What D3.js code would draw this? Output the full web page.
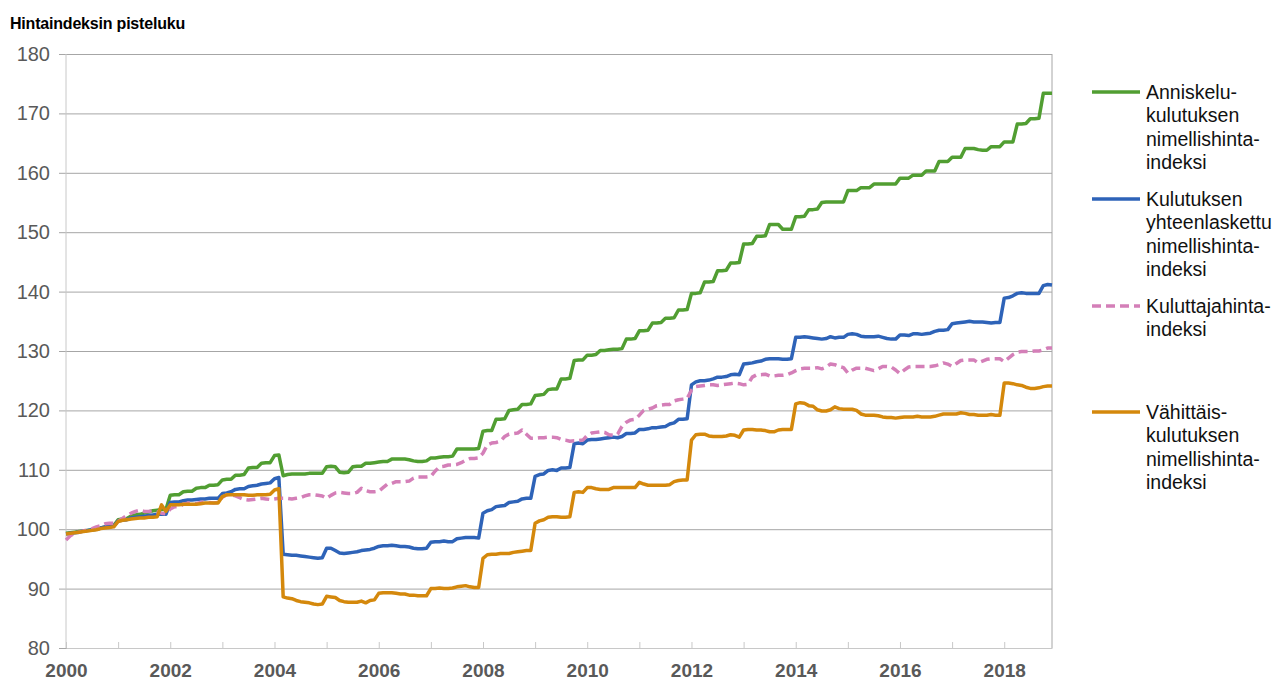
<!DOCTYPE html>
<html>
<head>
<meta charset="utf-8">
<script src="https://cdn.jsdelivr.net/npm/d3@7"></script>
<style>
  body { margin: 0; background: #fff; }
  svg { font-family: "Liberation Sans", Arial, sans-serif; }
</style>
</head>
<body>
<div class="chart"></div>
<script>
// monthly values Jan 2000 .. Dec 2018
const anniskelu = [
  99.3, 99.4, 99.5, 99.6, 99.7, 99.8, 99.9, 100.0, 100.2, 100.4, 100.5, 100.6,
  101.6, 101.7, 101.8, 102.2, 102.4, 102.5, 102.7, 102.9, 103.1, 103.2, 103.3, 103.3,
  105.7, 105.8, 105.8, 106.3, 106.4, 106.4, 106.9, 107.0, 107.0, 107.4, 107.4, 107.5,
  108.3, 108.4, 108.4, 109.1, 109.1, 109.2, 110.3, 110.4, 110.4, 111.1, 111.2, 111.2,
  112.4, 112.5, 109.0, 109.2, 109.3, 109.3, 109.3, 109.3, 109.4, 109.4, 109.4, 109.4,
  110.5, 110.6, 110.5, 109.6, 109.5, 109.6, 110.5, 110.6, 110.6, 111.1, 111.1, 111.2,
  111.3, 111.4, 111.4, 111.8, 111.8, 111.8, 111.8, 111.7, 111.5, 111.4, 111.4, 111.5,
  112.0, 112.0, 112.1, 112.2, 112.2, 112.3, 113.5, 113.5, 113.5, 113.5, 113.5, 113.6,
  116.5, 116.6, 116.6, 118.5, 118.5, 118.6, 120.0, 120.1, 120.2, 121.0, 121.0, 121.1,
  122.5, 122.6, 122.7, 123.5, 123.6, 123.6, 125.3, 125.3, 125.4, 128.4, 128.5, 128.5,
  129.3, 129.3, 129.4, 130.1, 130.1, 130.2, 130.3, 130.3, 130.4, 132.0, 132.0, 132.1,
  133.4, 133.4, 133.5, 134.7, 134.7, 134.8, 135.5, 135.5, 135.6, 136.9, 136.9, 137.0,
  139.7, 139.7, 139.8, 141.6, 141.6, 141.7, 143.5, 143.5, 143.6, 144.8, 144.8, 144.9,
  148.0, 148.0, 148.1, 149.3, 149.3, 149.4, 151.3, 151.3, 151.3, 150.5, 150.5, 150.5,
  152.6, 152.6, 152.7, 153.8, 153.8, 153.9, 155.0, 155.1, 155.1, 155.1, 155.1, 155.1,
  157.0, 157.0, 157.0, 157.5, 157.5, 157.5, 158.1, 158.1, 158.1, 158.1, 158.1, 158.1,
  159.1, 159.1, 159.1, 159.6, 159.6, 159.6, 160.3, 160.3, 160.3, 161.9, 161.9, 161.9,
  162.6, 162.6, 162.6, 164.1, 164.1, 164.1, 163.9, 163.8, 163.8, 164.4, 164.4, 164.4,
  165.2, 165.2, 165.2, 168.2, 168.2, 168.3, 169.1, 169.1, 169.2, 173.4, 173.4, 173.4
];
const kulutus = [
  99.2, 99.3, 99.4, 99.5, 99.7, 99.8, 99.9, 100.0, 100.2, 100.4, 100.5, 100.5,
  101.4, 101.5, 101.6, 101.9, 102.0, 102.1, 102.2, 102.3, 102.4, 102.5, 102.5, 102.5,
  104.5, 104.6, 104.6, 104.8, 104.9, 104.9, 105.0, 105.1, 105.1, 105.2, 105.2, 105.2,
  106.0, 106.1, 106.3, 106.7, 106.8, 106.8, 107.2, 107.3, 107.4, 107.6, 107.7, 107.8,
  108.5, 108.7, 95.8, 95.7, 95.6, 95.6, 95.5, 95.4, 95.3, 95.2, 95.1, 95.2,
  96.8, 96.8, 96.4, 96.0, 95.9, 96.0, 96.1, 96.2, 96.4, 96.5, 96.6, 96.8,
  97.1, 97.2, 97.2, 97.3, 97.2, 97.1, 97.1, 97.0, 96.8, 96.7, 96.7, 96.8,
  97.8, 97.9, 97.9, 98.0, 97.9, 97.9, 98.4, 98.5, 98.6, 98.6, 98.6, 98.5,
  102.7, 103.1, 103.3, 103.8, 103.9, 104.0, 104.5, 104.6, 104.7, 105.1, 105.2, 105.2,
  108.9, 109.2, 109.3, 109.9, 110.0, 109.9, 110.3, 110.3, 110.4, 114.4, 114.5, 114.4,
  115.0, 115.1, 115.1, 115.2, 115.3, 115.4, 115.5, 115.4, 115.6, 116.1, 116.1, 116.2,
  116.8, 116.8, 116.9, 117.1, 117.1, 117.2, 117.3, 117.7, 117.9, 118.5, 118.5, 118.6,
  124.3, 124.8, 125.0, 125.0, 125.1, 125.3, 125.6, 125.6, 125.7, 126.0, 126.1, 126.0,
  127.8, 127.9, 128.0, 128.2, 128.3, 128.6, 128.7, 128.7, 128.7, 128.6, 128.6, 128.7,
  132.3, 132.3, 132.4, 132.3, 132.2, 132.1, 132.0, 132.1, 132.4, 132.2, 132.3, 132.3,
  132.8, 132.9, 132.8, 132.5, 132.4, 132.4, 132.4, 132.5, 132.3, 132.1, 132.0, 132.0,
  132.7, 132.7, 132.6, 132.9, 132.9, 132.8, 132.9, 133.0, 133.3, 133.5, 133.5, 133.6,
  134.6, 134.7, 134.8, 134.9, 135.0, 134.9, 134.9, 134.9, 134.8, 134.7, 134.8, 134.8,
  138.9, 139.0, 139.3, 139.7, 139.8, 139.7, 139.7, 139.7, 139.7, 141.0, 141.2, 141.1
];
const kuluttajahinta = [
  98.2, 98.9, 99.3, 99.5, 99.7, 99.9, 100.1, 100.4, 100.6, 100.9, 101.0, 101.0,
  101.3, 101.8, 102.3, 102.7, 103.0, 103.2, 103.0, 103.0, 103.1, 102.9, 102.7, 102.6,
  103.4, 103.8, 103.8, 104.2, 104.4, 104.4, 104.3, 104.5, 104.6, 104.5, 104.4, 104.5,
  105.4, 105.8, 105.8, 105.6, 105.3, 105.0, 104.9, 105.0, 105.1, 105.2, 105.1, 105.0,
  105.1, 105.2, 105.2, 105.2, 105.1, 105.2, 105.3, 105.6, 105.8, 105.8, 105.7, 105.6,
  105.2, 105.7, 106.1, 106.2, 106.1, 106.0, 106.0, 106.2, 106.9, 106.5, 106.3, 106.3,
  106.4, 107.0, 107.6, 107.7, 108.0, 108.0, 108.0, 108.1, 108.6, 108.8, 108.8, 108.8,
  108.9, 109.8, 110.5, 110.6, 110.8, 110.8, 110.9, 111.2, 111.6, 111.9, 111.9, 112.0,
  112.8, 114.2, 114.5, 114.6, 114.8, 115.6, 116.0, 116.1, 116.2, 116.7, 116.0, 115.3,
  115.3, 115.4, 115.4, 115.5, 115.5, 115.4, 115.1, 115.0, 114.8, 114.9, 114.9, 115.0,
  115.8, 116.2, 116.3, 116.4, 116.3, 115.9, 115.8, 116.0, 117.3, 118.0, 118.4, 118.5,
  119.2, 120.0, 120.2, 120.4, 120.8, 120.9, 121.0, 121.0, 121.6, 121.8, 121.9, 122.0,
  123.4, 124.0, 124.1, 124.2, 124.3, 124.3, 124.2, 124.3, 124.4, 124.5, 124.6, 124.5,
  124.3, 124.4, 125.6, 126.0, 126.0, 126.1, 125.8, 125.8, 125.9, 125.9, 126.0, 126.3,
  126.7, 127.0, 127.1, 127.1, 127.1, 127.2, 127.0, 127.3, 127.8, 127.7, 127.4, 127.2,
  126.3, 126.8, 127.1, 127.1, 127.1, 126.9, 126.7, 127.0, 127.4, 127.4, 127.3, 126.8,
  126.2, 126.8, 127.3, 127.4, 127.4, 127.4, 127.4, 127.4, 127.5, 127.7, 128.0, 127.8,
  127.4, 127.9, 128.4, 128.5, 128.5, 128.5, 128.0, 128.3, 128.6, 128.7, 128.7, 128.7,
  128.2, 128.8, 129.4, 129.8, 129.9, 129.9, 129.9, 130.0, 130.0, 130.2, 130.5, 130.5
];
const vahittais = [
  99.2, 99.3, 99.4, 99.5, 99.6, 99.7, 99.8, 99.9, 100.1, 100.2, 100.3, 100.4,
  101.3, 101.5, 101.6, 101.7, 101.8, 101.9, 101.9, 102.0, 102.0, 102.1, 104.1, 103.0,
  104.1, 104.1, 104.1, 104.2, 104.2, 104.2, 104.2, 104.3, 104.4, 104.4, 104.4, 104.4,
  105.5, 105.8, 105.8, 105.8, 105.8, 105.8, 105.7, 105.7, 105.8, 105.8, 105.8, 105.9,
  106.6, 106.8, 88.6, 88.4, 88.3, 88.0, 87.8, 87.7, 87.6, 87.4, 87.3, 87.4,
  88.7, 88.6, 88.5, 88.0, 87.8, 87.7, 87.7, 87.7, 87.9, 87.6, 88.0, 88.1,
  89.2, 89.3, 89.3, 89.3, 89.2, 89.1, 89.1, 88.9, 88.9, 88.8, 88.8, 88.8,
  90.0, 90.0, 90.1, 90.0, 90.0, 90.1, 90.3, 90.4, 90.5, 90.3, 90.2, 90.2,
  95.1, 95.7, 95.8, 95.8, 95.9, 95.9, 95.9, 96.1, 96.2, 96.3, 96.4, 96.4,
  101.0, 101.4, 101.6, 102.0, 102.1, 102.1, 102.0, 102.0, 102.1, 106.2, 106.3, 106.2,
  107.0, 107.0, 106.8, 106.7, 106.7, 106.7, 107.0, 107.0, 107.0, 107.0, 107.0, 107.0,
  107.9, 107.6, 107.4, 107.4, 107.4, 107.4, 107.4, 107.5, 108.0, 108.2, 108.3, 108.3,
  115.0, 115.9, 116.0, 116.0, 115.7, 115.6, 115.6, 115.6, 115.7, 115.9, 115.8, 115.5,
  116.7, 116.8, 116.8, 116.7, 116.7, 116.6, 116.4, 116.4, 116.7, 116.8, 116.8, 116.8,
  121.1, 121.3, 121.2, 120.8, 120.7, 120.1, 119.9, 119.9, 120.1, 120.6, 120.3, 120.2,
  120.2, 120.2, 120.0, 119.4, 119.2, 119.2, 119.2, 119.1, 118.9, 118.8, 118.8, 118.7,
  118.8, 118.9, 118.9, 118.9, 119.0, 118.9, 118.9, 118.9, 119.0, 119.2, 119.4, 119.4,
  119.4, 119.4, 119.6, 119.5, 119.3, 119.3, 119.2, 119.2, 119.2, 119.3, 119.2, 119.2,
  124.6, 124.6, 124.5, 124.3, 124.2, 123.9, 123.7, 123.7, 123.8, 124.0, 124.1, 124.1
];
const years = d3.range(2000, 2019);
const yTicks = [80, 90, 100, 110, 120, 130, 140, 150, 160, 170, 180];

const series = [
  {name: ["Anniskelu-", "kulutuksen", "nimellishinta-", "indeksi"], values: anniskelu, color: "#519e32", dash: null, ly: 92},
  {name: ["Kulutuksen", "yhteenlaskettu", "nimellishinta-", "indeksi"], values: kulutus, color: "#2e63b8", dash: null, ly: 199},
  {name: ["Kuluttajahinta-", "indeksi"], values: kuluttajahinta, color: "#d47fb8", dash: "9,5", ly: 306},
  {name: ["Vähittäis-", "kulutuksen", "nimellishinta-", "indeksi"], values: vahittais, color: "#d4880c", dash: null, ly: 412}
];

const W = 1277, H = 682;
const plot = {left: 66, right: 1052, top: 54, bottom: 648};

const svg = d3.select(".chart").append("svg")
    .attr("width", W)
    .attr("height", H);

const x = d3.scaleLinear().domain([0, anniskelu.length - 1]).range([plot.left, plot.right]);
const y = d3.scaleLinear().domain([80, 180]).range([plot.bottom, plot.top]);

// title
svg.append("text")
    .attr("x", 10)
    .attr("y", 29)
    .attr("font-size", "16px")
    .attr("font-weight", "bold")
    .attr("letter-spacing", "-0.2px")
    .attr("fill", "#000")
    .text("Hintaindeksin pisteluku");

// gridlines + y axis
const yAxis = d3.axisLeft(y).tickValues(yTicks).tickSizeInner(plot.left - 59).tickSizeOuter(0).tickPadding(9);
svg.append("g")
    .attr("transform", `translate(${plot.left},0)`)
    .call(yAxis)
    .call(g => g.select(".domain").remove())
    .call(g => g.selectAll(".tick line").attr("stroke", "#a6a6a6"))
    .call(g => g.selectAll(".tick line").clone()
        .attr("x2", plot.right - plot.left)
        .attr("stroke", "#a6a6a6")
        .attr("x1", 0))
    .call(g => g.selectAll(".tick text")
        .attr("font-size", "20px")
        .attr("fill", "#595959")
        .attr("font-family", "Liberation Sans, Arial, sans-serif"));

// plot border: left axis, right side
svg.append("line")
    .attr("x1", plot.left).attr("x2", plot.left).attr("y1", plot.top).attr("y2", plot.bottom)
    .attr("stroke", "#c8c8c8");
svg.append("line")
    .attr("x1", plot.right).attr("x2", plot.right).attr("y1", plot.top).attr("y2", plot.bottom)
    .attr("stroke", "#a6a6a6");

// x axis
const xAxis = d3.axisBottom(x)
    .tickValues(years.map((d, i) => i * 12))
    .tickSizeInner(-6)
    .tickSizeOuter(0)
    .tickPadding(16)
    .tickFormat((d, i) => (years[i] % 2 === 0 ? years[i] : ""));
svg.append("g")
    .attr("transform", `translate(0,${plot.bottom})`)
    .call(xAxis)
    .call(g => g.select(".domain").attr("stroke", "#c8c8c8"))
    .call(g => g.selectAll(".tick line").attr("stroke", "#c8c8c8"))
    .call(g => g.selectAll(".tick text")
        .attr("font-size", "19px")
        .attr("font-weight", "bold")
        .attr("fill", "#595959")
        .attr("font-family", "Liberation Sans, Arial, sans-serif"));

// lines
const line = d3.line()
    .x((d, i) => x(i))
    .y(d => y(d));

svg.append("g")
    .selectAll("path")
    .data(series)
    .join("path")
    .attr("fill", "none")
    .attr("stroke", d => d.color)
    .attr("stroke-width", 3.5)
    .attr("stroke-linejoin", "round")
    .attr("stroke-dasharray", d => d.dash)
    .attr("d", d => line(d.values));

// legend
const legend = svg.append("g")
    .selectAll("g")
    .data(series)
    .join("g")
    .attr("transform", d => `translate(1092,${d.ly})`);

legend.append("line")
    .attr("x1", 0).attr("x2", 48)
    .attr("stroke", d => d.color)
    .attr("stroke-width", 3.5)
    .attr("stroke-dasharray", d => d.dash);

legend.append("text")
    .attr("font-size", "19.5px")
    .attr("fill", "#111")
    .selectAll("tspan")
    .data(d => d.name)
    .join("tspan")
    .attr("x", 54)
    .attr("y", (d, i) => 7 + i * 23.3)
    .text(d => d);
</script>
</body>
</html>
